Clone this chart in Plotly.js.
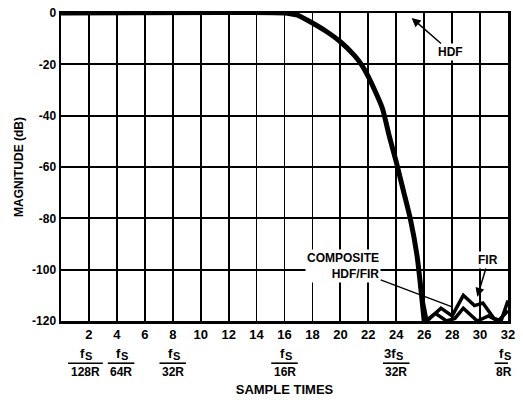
<!DOCTYPE html>
<html>
<head>
<meta charset="utf-8">
<script src="https://cdn.plot.ly/plotly-3.0.1.min.js"></script>
<style>html,body{margin:0;padding:0;background:#fff}#chart{width:523px;height:405px}</style>
</head>
<body>
<div id="chart"></div>
<script>
// ---- data ----
const hdfX = [0, 16, 16.5, 17, 18, 19, 20, 21, 21.5, 22, 23, 23.5, 24, 24.5, 25, 25.5, 26];
const hdfY = [0, 0, -0.4, -1, -3.9, -7.2, -11.2, -16.5, -20, -24.8, -37, -48, -58, -69, -80, -95, -120];
const firX = [25.7, 26.2, 27.2, 28, 28.8, 29.6, 30.2, 31, 31.5, 32];
const firY = [-106, -120, -115, -118, -110, -114, -113, -119, -120, -112];
const compX = [26.1, 26.8, 27.6, 28.2, 28.8, 29.8, 30.6, 31.3, 32];
const compY = [-120, -117, -120, -119, -115, -120, -118, -120, -116];
const xTicks = [2, 4, 6, 8, 10, 12, 14, 16, 18, 20, 22, 24, 26, 28, 30, 32];
const xTickText = xTicks.map(String);
const yTicks = [0, -20, -40, -60, -80, -100, -120];
const yTickText = ['0', '-20', '-40', '-60', '-80', '-100', '-120'];
const fracTick = [2, 4, 8, 16, 24, 32];
const fracNum = ['f', 'f', 'f', 'f', '3f', 'f'];
const fracSub = ['S', 'S', 'S', 'S', 'S', 'S'];
const fracDen = ['128R', '64R', '32R', '16R', '32R', '8R'];

// ---- layout helpers ----
const FONT = 'Liberation Sans, Arial, Helvetica, sans-serif';
const pxPerUnit = 448 / 32;
const fracShift = [-0.25, 0.3, 0, 0, 0, -0.3];
const boldFont = (s) => ({family: FONT, size: s, weight: 'bold', color: '#000'});

const annotations = [];
const shapes = [];
fracTick.forEach((t, i) => {
  const cx = t + fracShift[i];
  annotations.push({x: cx, y: -0.104, xref: 'x', yref: 'paper', text: fracNum[i], showarrow: false,
    font: boldFont(13), xanchor: 'right', yanchor: 'middle', borderpad: 0, xshift: 1});
  annotations.push({x: cx, y: -0.104, xref: 'x', yref: 'paper', text: fracSub[i], showarrow: false,
    font: boldFont(11), xanchor: 'left', yanchor: 'middle', borderpad: 0, xshift: -1, yshift: -3});
  annotations.push({x: cx, y: -0.166, xref: 'x', yref: 'paper', text: fracDen[i], showarrow: false,
    font: boldFont(12), xanchor: 'center', yanchor: 'middle'});
  const hw = (fracDen[i].length * 4.1 + 1) / pxPerUnit;
  shapes.push({type: 'line', xref: 'x', yref: 'paper', x0: cx - hw, x1: Math.min(cx + hw, 32), y0: -0.137, y1: -0.137,
    line: {color: '#000', width: 1.6}});
});

annotations.push(
  {x: 25.1, y: -1.9, ax: 27.9, ay: -15.2, axref: 'x', ayref: 'y', xref: 'x', yref: 'y',
    showarrow: true, arrowhead: 2, arrowsize: 1.2, arrowwidth: 1.5, arrowcolor: '#000',
    text: 'HDF', font: boldFont(12), bgcolor: '#fff'},
  {x: 28, y: -114.5, ax: 20.2, ay: -98.4, axref: 'x', ayref: 'y', xref: 'x', yref: 'y',
    showarrow: true, arrowhead: 0, arrowwidth: 1.3, arrowcolor: '#000', align: 'right',
    text: 'COMPOSITE<br>HDF/FIR', font: boldFont(12), bgcolor: '#fff'},
  {x: 29.8, y: -110.6, ax: 30.6, ay: -96.2, axref: 'x', ayref: 'y', xref: 'x', yref: 'y',
    showarrow: true, arrowhead: 2, arrowsize: 1.2, arrowwidth: 1.5, arrowcolor: '#000',
    text: 'FIR', font: boldFont(12), bgcolor: '#fff'}
);

const traces = [
  {x: hdfX, y: hdfY, mode: 'lines', line: {color: '#000', width: 5, shape: 'spline', smoothing: 0.6}, name: 'HDF'},
  {x: firX, y: firY, mode: 'lines', line: {color: '#000', width: 3.5}, name: 'FIR'},
  {x: compX, y: compY, mode: 'lines', line: {color: '#000', width: 3.5}, name: 'Composite'}
];

const layout = {
  width: 523, height: 405,
  margin: {l: 61, r: 15, t: 13, b: 84},
  paper_bgcolor: '#fff', plot_bgcolor: '#fff',
  showlegend: false,
  font: {family: FONT, size: 12, color: '#000', weight: 'bold'},
  xaxis: {
    range: [0, 32], tickvals: xTicks, ticktext: xTickText, showgrid: true, gridcolor: '#000', gridwidth: 1.8,
    zeroline: false, showline: true, mirror: true, linecolor: '#000', linewidth: 2.5, ticks: '',
    tickfont: boldFont(13), tickangle: 0,
    title: {text: 'SAMPLE TIMES', font: boldFont(13), standoff: 44}
  },
  yaxis: {
    range: [-120, 0], tickvals: yTicks, ticktext: yTickText, showgrid: true, gridcolor: '#000', gridwidth: 1.8,
    zeroline: false, showline: true, mirror: true, linecolor: '#000', linewidth: 2.5, ticks: '',
    tickfont: boldFont(12),
    title: {text: 'MAGNITUDE (dB)', font: boldFont(12), standoff: 6}
  },
  annotations: annotations,
  shapes: shapes
};

Plotly.newPlot('chart', traces, layout, {displayModeBar: false, staticPlot: true});
</script>
</body>
</html>
